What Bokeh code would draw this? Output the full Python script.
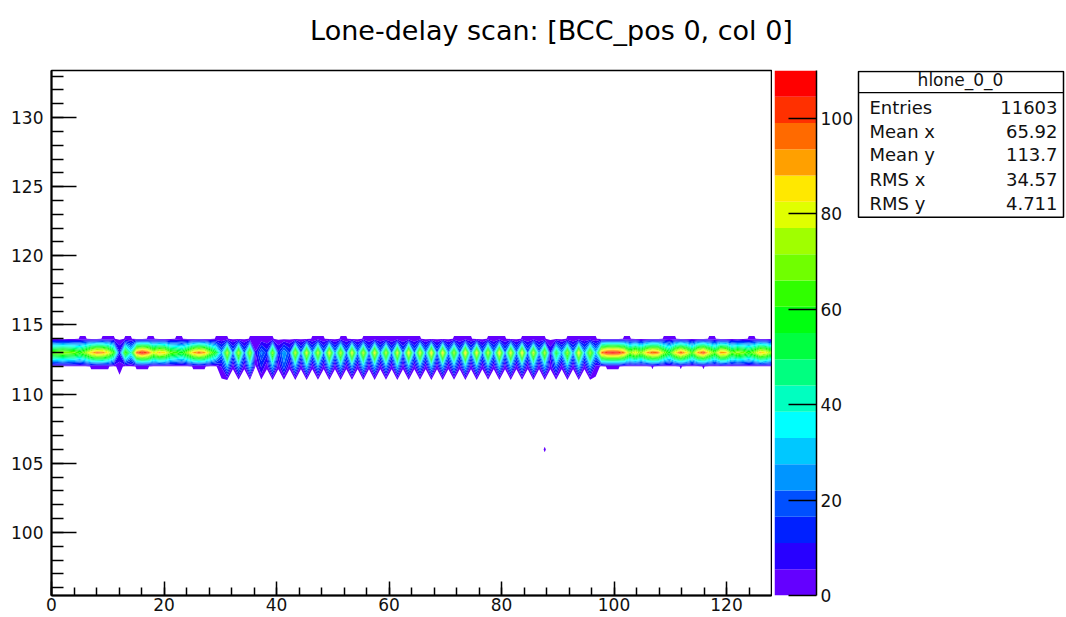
import numpy as np
from bokeh.plotting import figure
from bokeh.layouts import column, row
from bokeh.models import Range1d, FixedTicker
from bokeh.core.properties import value
from bokeh.embed import file_html
from bokeh.resources import INLINE

# ---------------- data ----------------
title_text = "Lone-delay scan: [BCC_pos 0, col 0]"
hist_name = "hlone_0_0"
stats_names = ["Entries", "Mean x", "Mean y", "RMS x", "RMS y"]
stats_values = ["11603", "65.92", "113.7", "34.57", "4.711"]

n_xbins = 128
y_rows = list(range(96, 134))

# counts in row y=113 (bins 0..127)
row_113 = [68, 70, 72, 70, 68, 62, 72, 88, 96, 94, 84, 62, 12, 66, 40, 98, 108, 100, 80, 90,
           86, 68, 64, 58, 72, 90, 98, 92, 72, 56,
           26, 78, 22, 76, 20, 74, 6, 24, 14, 72, 12, 28, 16, 78, 22, 82, 24, 78, 22, 84,
           24, 78, 22, 82, 24, 78, 22, 84, 24, 76, 22, 82, 20, 86, 22, 82, 24, 88, 22, 86,
           24, 74, 22, 88, 24, 86, 22, 78, 24, 88, 22, 84, 24, 86, 22, 80, 24, 76, 10, 58,
           26, 74, 24, 86, 26, 74, 30,
           96, 106, 108, 106, 96, 72, 84, 70, 90, 100, 96, 72, 58, 84, 100, 86, 64, 92, 102, 82,
           66, 94, 90, 66, 74, 70, 62, 72, 90, 84, 70]
# counts in row y=112
row_112 = [0, 0, 0, 0, 0, 0, 0, 1, 1, 1, 1, 0, 2, 0, 0, 1, 1, 1, 0, 0,
           0, 0, 0, 0, 0, 1, 1, 1, 0, 0,
           6, 28, 1, 26, 1, 30, 0, 12, 1, 28, 1, 20, 1, 28, 1, 30, 1, 26, 1, 30,
           1, 28, 1, 26, 1, 30, 1, 28, 1, 26, 1, 30, 1, 28, 1, 26, 1, 30, 1, 28,
           1, 26, 1, 30, 1, 28, 1, 26, 1, 30, 1, 28, 1, 26, 1, 30, 1, 28, 1, 22,
           1, 28, 1, 30, 1, 26, 3,
           0, 1, 1, 1, 0, 0, 0, 0, 0, 1, 0, 0, 0, 0, 1, 0, 0, 0, 1, 0,
           0, 0, 0, 0, 0, 0, 0, 0, 0, 0, 0]
# counts in row y=114
row_114 = [0, 0, 0, 0, 0, 1, 1, 0, 0, 1, 1, 1, 0, 1, 1, 0, 0, 1, 1, 0,
           0, 0, 1, 1, 0, 0, 0, 0, 0, 1,
           1, 1, 0, 0, 0, 1, 1, 1, 1, 1, 0, 0, 0, 0, 0, 0, 1, 1, 1, 0,
           0, 1, 1, 0, 0, 1, 1, 1, 1, 1, 1, 1, 1, 1, 1, 1, 0, 0, 0, 0,
           0, 1, 1, 1, 1, 0, 0, 1, 1, 1, 1, 0, 0, 1, 1, 1, 1, 1, 0, 0,
           0, 1, 1, 1, 1, 1, 1,
           0, 0, 0, 0, 1, 1, 0, 0, 0, 0, 0, 1, 1, 1, 0, 0, 0, 0, 0, 1,
           1, 0, 0, 0, 0, 0, 1, 1, 0, 0, 0]
# isolated entry
dot_x = [87]
dot_y = [106]
dot_count = [1]

z_levels = [0, 5.5, 11, 16.5, 22, 27.5, 33, 38.5, 44, 49.5, 55, 60.5, 66, 71.5, 77,
            82.5, 88, 93.5, 99, 104.5, 110]
palette = ["#6400ff", "#2800ff", "#0020ff", "#0050ff", "#0095ff", "#00c8ff", "#00ffff",
           "#00ffc0", "#00ff80", "#00ff40", "#00ff10", "#30ff00", "#70ff00", "#a0ff00",
           "#e0ff00", "#ffe800", "#ffa000", "#ff6a00", "#ff3000", "#ff0000"]
fill_threshold = 0.8

x_ticks = [0, 20, 40, 60, 80, 100, 120]
x_minor = list(range(0, 128, 4))
y_ticks = [100, 105, 110, 115, 120, 125, 130]
y_minor = list(range(96, 134))
cbar_ticks = [0, 20, 40, 60, 80, 100]

# ---------------- build grid ----------------
Z = np.zeros((len(y_rows), n_xbins))
Z[y_rows.index(112)] = row_112
Z[y_rows.index(113)] = row_113
Z[y_rows.index(114)] = row_114
for cx, cy, cv in zip(dot_x, dot_y, dot_count):
    Z[y_rows.index(cy), cx] = cv
x_grid = np.linspace(0, n_xbins, n_xbins)
y_grid = np.array(y_rows, dtype=float)
fill_levels = [fill_threshold] + z_levels[1:]

FONT = value("DejaVu Sans")

# ---------------- title ----------------
tf = figure(width=1066, height=48, x_range=Range1d(0, 1066), y_range=Range1d(48, 0),
            x_axis_location=None, y_axis_location=None, min_border=0, title=None,
            output_backend="svg", toolbar_location=None)
tf.outline_line_color = None
tf.grid.visible = False
tf.text(x=[551], y=[30], text=[title_text], text_align="center", text_baseline="middle",
        text_font=FONT, text_font_size=value("27px"), text_color="#000000")

# ---------------- main plot ----------------
p = figure(width=772, height=569, x_range=Range1d(0, 128), y_range=Range1d(95.44, 133.4),
           min_border_left=51, min_border_right=1, min_border_top=22, min_border_bottom=22,
           title=None, output_backend="svg", toolbar_location=None)
p.grid.visible = False
p.outline_line_color = "black"
p.outline_line_width = 1.5
p.contour(x=x_grid, y=y_grid, z=Z, levels=fill_levels, fill_color=palette, line_color=None)

p.xaxis.ticker = FixedTicker(ticks=x_ticks, minor_ticks=x_minor)
p.yaxis.ticker = FixedTicker(ticks=y_ticks, minor_ticks=y_minor)
for ax in (p.xaxis, p.yaxis):
    ax.axis_line_width = 2
    ax.axis_line_color = "black"
    ax.major_tick_line_color = "black"
    ax.minor_tick_line_color = "black"
    ax.major_tick_line_width = 1.5
    ax.minor_tick_line_width = 1.5
    ax.major_tick_out = 0
    ax.minor_tick_out = 0
    ax.major_label_text_font = "DejaVu Sans"
    ax.major_label_text_font_size = "17px"
    ax.major_label_text_color = "#111111"
p.xaxis.major_tick_in = 14
p.xaxis.minor_tick_in = 8
p.xaxis.major_label_standoff = 2
p.yaxis.major_tick_in = 25
p.yaxis.minor_tick_in = 12
p.yaxis.major_label_standoff = 8

# ---------------- colour bar ----------------
cb = figure(width=84, height=569, x_range=Range1d(0, 1), y_range=Range1d(0, 110),
            x_axis_location=None, y_axis_location="right",
            min_border_left=2, min_border_right=40, min_border_top=22, min_border_bottom=22,
            title=None, output_backend="svg", toolbar_location=None)
cb.grid.visible = False
cb.outline_line_color = None
cb.quad(left=0, right=1, bottom=z_levels[:-1], top=z_levels[1:], fill_color=palette,
        line_color=None)
cb.yaxis.ticker = FixedTicker(ticks=cbar_ticks, minor_ticks=[])
cb.yaxis.axis_line_width = 1.5
cb.yaxis.axis_line_color = "black"
cb.yaxis.major_tick_in = 28
cb.yaxis.major_tick_out = 0
cb.yaxis.minor_tick_in = 0
cb.yaxis.minor_tick_out = 0
cb.yaxis.major_tick_line_width = 1.5
cb.yaxis.major_label_standoff = 4
cb.yaxis.major_label_text_font = "DejaVu Sans"
cb.yaxis.major_label_text_font_size = "17px"
cb.yaxis.major_label_text_color = "#111111"

# ---------------- stats box ----------------
st = figure(width=210, height=569, x_range=Range1d(0, 210), y_range=Range1d(569, 0),
            x_axis_location=None, y_axis_location=None, min_border=0, title=None,
            output_backend="svg", toolbar_location=None)
st.outline_line_color = None
st.grid.visible = False
st.quad(left=[2], right=[207], top=[1], bottom=[159], fill_color="white",
        line_color="black", line_width=1.5)
st.segment(x0=[2], y0=[24], x1=[207], y1=[24], line_color="black", line_width=1.2)
st.text(x=[104], y=[10], text=[hist_name], text_align="center", text_baseline="middle",
        text_font=FONT, text_font_size=value("17px"), text_color="#111111")
row_y = [40, 66, 91, 118, 144]
st.text(x=[13] * len(stats_names), y=row_y, text=stats_names, text_align="left",
        text_baseline="middle", text_font=FONT, text_font_size=value("18px"),
        text_color="#111111")
st.text(x=[201] * len(stats_values), y=row_y, text=stats_values, text_align="right",
        text_baseline="middle", text_font=FONT, text_font_size=value("18px"),
        text_color="#111111")

layout = column(tf, row(p, cb, st, spacing=0), spacing=0)
open("out.html", "w").write(file_html(layout, INLINE))
